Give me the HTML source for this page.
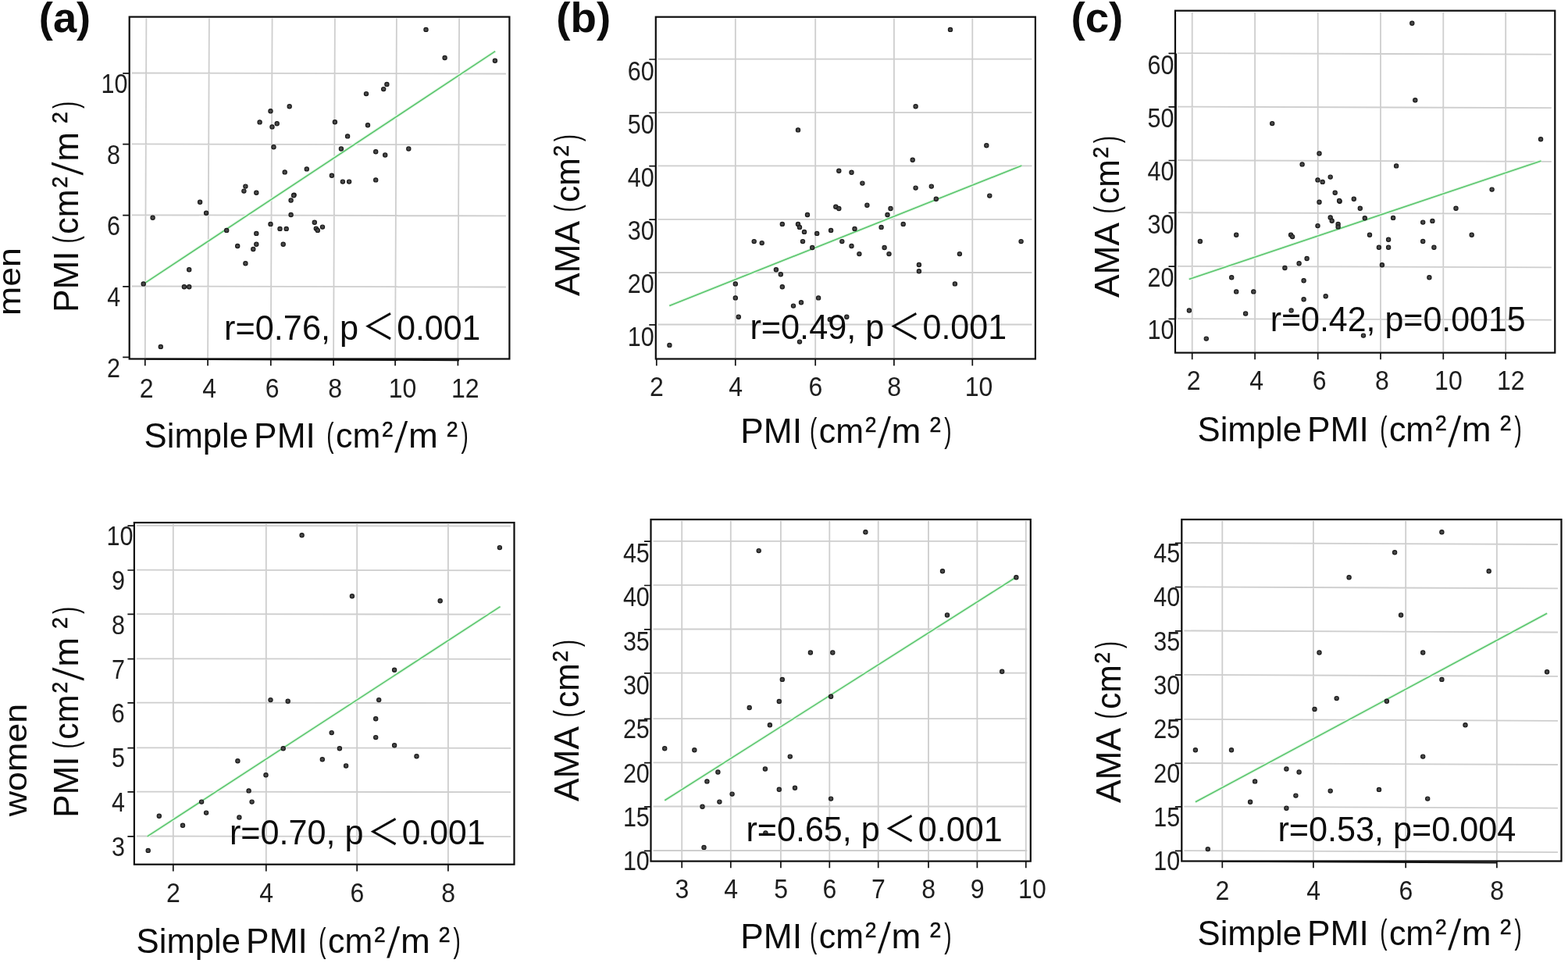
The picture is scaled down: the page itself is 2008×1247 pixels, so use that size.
<!DOCTYPE html>
<html lang="en">
<head>
<meta charset="utf-8">
<title>Correlation between PMI, simple PMI and AMA in men and women</title>
<style>
html,body{margin:0;padding:0;background:#fff;}
body{width:2008px;height:1247px;overflow:hidden;}
svg{display:block;font-family:"Liberation Sans","Noto Sans CJK JP",sans-serif;filter:blur(0.4px);}
.tk text{fill:#1e1e1e;}
.lb text{fill:#0c0c0c;}
.lb text.fw{font-family:"Noto Sans CJK JP","Liberation Sans",sans-serif;}
</style>
</head>
<body>
<svg width="2008" height="1247" viewBox="0 0 2008 1247">
<rect x="0" y="0" width="2008" height="1247" fill="#ffffff"/>
<g id="panel-a">
<path d="M187.4 23.6L185.8 458.5M267.9 23.6L266.1 458.5M348.6 23.6L346.8 458.5M428.9 23.6L427.1 458.5M507.9 23.6L506.1 458.5M588.1 23.6L586.4 458.5M168.7 93.5L647.9 94.5M168.7 184.4L647.9 185.4M168.7 275.3L647.9 276.3M168.7 366.5L647.9 367.5" stroke="#cecece" stroke-width="1.8" fill="none"/>
<line x1="183.7" y1="363.6" x2="634.2" y2="65.7" stroke="#e6f8e8" stroke-width="4"/>
<line x1="183.7" y1="363.6" x2="634.2" y2="65.7" stroke="#58c56c" stroke-width="1.6"/>
<g fill="#484848" stroke="#1a1a1a" stroke-width="1.2"><circle cx="545.5" cy="37.9" r="2.6"/><circle cx="569.6" cy="74" r="2.6"/><circle cx="633.9" cy="77.7" r="2.6"/><circle cx="495.4" cy="107.9" r="2.6"/><circle cx="491.2" cy="114.1" r="2.6"/><circle cx="469" cy="120.1" r="2.6"/><circle cx="370.7" cy="136.3" r="2.6"/><circle cx="346.5" cy="142.2" r="2.6"/><circle cx="332.6" cy="156.4" r="2.6"/><circle cx="354.7" cy="158.2" r="2.6"/><circle cx="348.5" cy="162.4" r="2.6"/><circle cx="428.9" cy="156.2" r="2.6"/><circle cx="471" cy="160.2" r="2.6"/><circle cx="445.1" cy="174.4" r="2.6"/><circle cx="350.5" cy="188.3" r="2.6"/><circle cx="436.9" cy="190.5" r="2.6"/><circle cx="523.3" cy="190.5" r="2.6"/><circle cx="481.2" cy="194.3" r="2.6"/><circle cx="493.2" cy="198.5" r="2.6"/><circle cx="392.8" cy="216.4" r="2.6"/><circle cx="364.7" cy="220.4" r="2.6"/><circle cx="424.9" cy="224.7" r="2.6"/><circle cx="438.9" cy="232.6" r="2.6"/><circle cx="447.1" cy="232.6" r="2.6"/><circle cx="481.2" cy="230.4" r="2.6"/><circle cx="314.4" cy="238.6" r="2.6"/><circle cx="312.4" cy="244.6" r="2.6"/><circle cx="328.3" cy="246.8" r="2.6"/><circle cx="376.6" cy="249.6" r="2.6"/><circle cx="376.1" cy="250.3" r="2.6"/><circle cx="372.6" cy="256.5" r="2.6"/><circle cx="256.1" cy="258.8" r="2.6"/><circle cx="264.1" cy="272.7" r="2.6"/><circle cx="195.6" cy="278.7" r="2.6"/><circle cx="372.6" cy="275" r="2.6"/><circle cx="402.8" cy="284.7" r="2.6"/><circle cx="413" cy="290.6" r="2.6"/><circle cx="404.8" cy="292.6" r="2.6"/><circle cx="406.8" cy="294.9" r="2.6"/><circle cx="346.5" cy="286.9" r="2.6"/><circle cx="358.5" cy="292.9" r="2.6"/><circle cx="366.7" cy="292.9" r="2.6"/><circle cx="290.2" cy="294.9" r="2.6"/><circle cx="328.3" cy="298.9" r="2.6"/><circle cx="304.2" cy="315" r="2.6"/><circle cx="328.3" cy="312.8" r="2.6"/><circle cx="324.3" cy="319" r="2.6"/><circle cx="362.7" cy="312.8" r="2.6"/><circle cx="314.4" cy="337.3" r="2.6"/><circle cx="242.2" cy="345.3" r="2.6"/><circle cx="183.7" cy="363.4" r="2.6"/><circle cx="235.9" cy="367.2" r="2.6"/><circle cx="242.2" cy="367.2" r="2.6"/><circle cx="205.8" cy="443.9" r="2.6"/></g>
<rect x="165.7" y="21.6" width="486.7" height="437.9" fill="none" stroke="#0d0d0d" stroke-width="2.2"/>
<line x1="187" y1="459.8" x2="588" y2="461.2" stroke="#0d0d0d" stroke-width="1.9"/>
<path d="M185.8 459.5v8.7M266.1 459.5v8.7M346.8 459.5v8.7M427.1 459.5v8.7M506.1 459.5v8.7M586.4 459.5v8.7M165.7 93.8h-8.5M165.7 184.7h-8.5M165.7 275.6h-8.5M165.7 366.8h-8.5M165.7 457.4h-8.5" stroke="#111" stroke-width="1.7" fill="none"/>
<g class="tk">
<text x="178.8" y="509.4" font-size="35.6" textLength="17.82" lengthAdjust="spacingAndGlyphs">2</text>
<text x="259.2" y="509.4" font-size="35.6" textLength="17.82" lengthAdjust="spacingAndGlyphs">4</text>
<text x="339.7" y="509.4" font-size="35.6" textLength="17.82" lengthAdjust="spacingAndGlyphs">6</text>
<text x="420.2" y="509.4" font-size="35.6" textLength="17.82" lengthAdjust="spacingAndGlyphs">8</text>
<text x="497.7" y="509.4" font-size="35.6" textLength="35.64" lengthAdjust="spacingAndGlyphs">10</text>
<text x="577.9" y="509.4" font-size="35.6" textLength="35.64" lengthAdjust="spacingAndGlyphs">12</text>
<text x="129.6" y="119" font-size="35.3" textLength="33.96" lengthAdjust="spacingAndGlyphs">10</text>
<text x="137.1" y="209.9" font-size="35.3" textLength="16.98" lengthAdjust="spacingAndGlyphs">8</text>
<text x="137" y="300.9" font-size="35.3" textLength="16.98" lengthAdjust="spacingAndGlyphs">6</text>
<text x="137.2" y="391.8" font-size="35.3" textLength="16.98" lengthAdjust="spacingAndGlyphs">4</text>
<text x="137.1" y="482.7" font-size="35.3" textLength="16.98" lengthAdjust="spacingAndGlyphs">2</text>
</g>
<g class="lb">
<text x="287.1" y="434.8" font-size="43.5" textLength="171.95" lengthAdjust="spacingAndGlyphs">r=0.76, p</text>
<text class="fw" x="463.9" y="435.3" font-size="45.3" textLength="41.54" lengthAdjust="spacingAndGlyphs">＜</text>
<text x="508.2" y="434.8" font-size="43.5" textLength="107.04" lengthAdjust="spacingAndGlyphs">0.001</text>
<text x="184.6" y="572.8" font-size="43.5" textLength="133.50" lengthAdjust="spacingAndGlyphs">Simple</text>
<text x="325.1" y="572.8" font-size="43.5" textLength="78.77" lengthAdjust="spacingAndGlyphs">PMI</text>
<text x="418.3" y="571.6" font-size="43.5" textLength="9.30" lengthAdjust="spacingAndGlyphs">(</text>
<text x="430" y="572.8" font-size="43.5" textLength="57.24" lengthAdjust="spacingAndGlyphs">cm</text>
<text x="489.1" y="558.9" font-size="28.2" stroke="#0c0c0c" stroke-width="0.55" textLength="14.67" lengthAdjust="spacingAndGlyphs">2</text>
<text transform="matrix(1 0 -0.154 1.267 505.27 579.15)" x="0" y="0" font-size="43.5">/</text>
<text x="522.9" y="572.8" font-size="43.5" textLength="37.84" lengthAdjust="spacingAndGlyphs">m</text>
<text x="571.8" y="558.9" font-size="28.2" stroke="#0c0c0c" stroke-width="0.55" textLength="14.79" lengthAdjust="spacingAndGlyphs">2</text>
<text x="590.6" y="571.6" font-size="43.5" textLength="9.30" lengthAdjust="spacingAndGlyphs">)</text>
<g transform="translate(100.1 396.4) rotate(-90)">
<text x="-3.7" y="0" font-size="43.5" textLength="78.77" lengthAdjust="spacingAndGlyphs">PMI</text>
<text x="85" y="-1.2" font-size="43.5" textLength="9.30" lengthAdjust="spacingAndGlyphs">(</text>
<text x="96.7" y="0" font-size="43.5" textLength="57.24" lengthAdjust="spacingAndGlyphs">cm</text>
<text x="155.8" y="-13.9" font-size="28.2" stroke="#0c0c0c" stroke-width="0.55" textLength="14.67" lengthAdjust="spacingAndGlyphs">2</text>
<text transform="matrix(1 0 -0.154 1.267 171.97 6.35)" x="0" y="0" font-size="43.5">/</text>
<text x="189.6" y="0" font-size="43.5" textLength="37.84" lengthAdjust="spacingAndGlyphs">m</text>
<text x="238.5" y="-13.9" font-size="28.2" stroke="#0c0c0c" stroke-width="0.55" textLength="14.79" lengthAdjust="spacingAndGlyphs">2</text>
<text x="257.3" y="-1.2" font-size="43.5" textLength="9.30" lengthAdjust="spacingAndGlyphs">)</text>
</g>
</g>
</g>
<g id="panel-b">
<path d="M941.8 23.7L941.8 458.5M1044.2 23.7L1044.2 458.5M1144.9 23.7L1144.9 458.5M1245.3 23.7L1245.3 458.5M842.8 75.7L1321.4 75.7M842.8 144.2L1321.4 144.2M842.8 212.4L1321.4 212.4M842.8 280.8L1321.4 280.8M842.8 349L1321.4 349M842.8 415.5L1321.4 415.5" stroke="#cecece" stroke-width="1.8" fill="none"/>
<line x1="857.2" y1="391.4" x2="1308.4" y2="212" stroke="#e6f8e8" stroke-width="4"/>
<line x1="857.2" y1="391.4" x2="1308.4" y2="212" stroke="#58c56c" stroke-width="1.6"/>
<g fill="#484848" stroke="#1a1a1a" stroke-width="1.2"><circle cx="1217" cy="37.9" r="2.6"/><circle cx="1172.6" cy="136.3" r="2.6"/><circle cx="1022" cy="166.4" r="2.6"/><circle cx="1263.3" cy="186.3" r="2.6"/><circle cx="1168.7" cy="204.7" r="2.6"/><circle cx="1074.3" cy="218.7" r="2.6"/><circle cx="1090.5" cy="220.7" r="2.6"/><circle cx="1104.4" cy="234.6" r="2.6"/><circle cx="1172.6" cy="240.6" r="2.6"/><circle cx="1192.8" cy="238.6" r="2.6"/><circle cx="1198.8" cy="254.8" r="2.6"/><circle cx="1267.3" cy="250.6" r="2.6"/><circle cx="1110.4" cy="262.8" r="2.6"/><circle cx="1070.3" cy="264.8" r="2.6"/><circle cx="1074.3" cy="267" r="2.6"/><circle cx="1140.5" cy="267" r="2.6"/><circle cx="1034" cy="275" r="2.6"/><circle cx="1136.5" cy="275" r="2.6"/><circle cx="1001.8" cy="286.9" r="2.6"/><circle cx="1022" cy="286.9" r="2.6"/><circle cx="1024" cy="290.9" r="2.6"/><circle cx="1156.7" cy="286.9" r="2.6"/><circle cx="1128.6" cy="290.9" r="2.6"/><circle cx="1094.5" cy="292.9" r="2.6"/><circle cx="1064.1" cy="294.9" r="2.6"/><circle cx="1030" cy="296.9" r="2.6"/><circle cx="1046.2" cy="298.9" r="2.6"/><circle cx="965.7" cy="309.1" r="2.6"/><circle cx="975.7" cy="311.1" r="2.6"/><circle cx="1028" cy="309.1" r="2.6"/><circle cx="1078.3" cy="309.1" r="2.6"/><circle cx="1090.5" cy="315" r="2.6"/><circle cx="1040.2" cy="317" r="2.6"/><circle cx="1132.6" cy="317" r="2.6"/><circle cx="1307.6" cy="309.1" r="2.6"/><circle cx="1100.4" cy="325.1" r="2.6"/><circle cx="1138.5" cy="325.1" r="2.6"/><circle cx="1228.9" cy="325.1" r="2.6"/><circle cx="1176.9" cy="339" r="2.6"/><circle cx="1176.9" cy="347.3" r="2.6"/><circle cx="993.9" cy="345.3" r="2.6"/><circle cx="999.8" cy="351.2" r="2.6"/><circle cx="941.8" cy="363.4" r="2.6"/><circle cx="1222.9" cy="363.4" r="2.6"/><circle cx="1001.8" cy="367.2" r="2.6"/><circle cx="941.8" cy="381.4" r="2.6"/><circle cx="1048.1" cy="381.4" r="2.6"/><circle cx="1026" cy="387.3" r="2.6"/><circle cx="1016" cy="391.6" r="2.6"/><circle cx="945.8" cy="405.8" r="2.6"/><circle cx="1084.3" cy="405.8" r="2.6"/><circle cx="1062.8" cy="409" r="2.6"/><circle cx="1024" cy="437.6" r="2.6"/><circle cx="857.4" cy="441.9" r="2.6"/></g>
<rect x="839.8" y="21.7" width="486.1" height="437.8" fill="none" stroke="#0d0d0d" stroke-width="2.2"/>
<path d="M840.8 459.5v8.7M941.8 459.5v8.7M1044.2 459.5v8.7M1144.9 459.5v8.7M1245.3 459.5v8.7M839.8 76h-8.5M839.8 144.5h-8.5M839.8 212.7h-8.5M839.8 281.1h-8.5M839.8 349.3h-8.5M839.8 415.8h-8.5" stroke="#111" stroke-width="1.7" fill="none"/>
<g class="tk">
<text x="832.1" y="507.2" font-size="35.6" textLength="17.82" lengthAdjust="spacingAndGlyphs">2</text>
<text x="933.2" y="507.2" font-size="35.6" textLength="17.82" lengthAdjust="spacingAndGlyphs">4</text>
<text x="1035.4" y="507.2" font-size="35.6" textLength="17.82" lengthAdjust="spacingAndGlyphs">6</text>
<text x="1136.2" y="507.2" font-size="35.6" textLength="17.82" lengthAdjust="spacingAndGlyphs">8</text>
<text x="1235.8" y="507.2" font-size="35.6" textLength="35.64" lengthAdjust="spacingAndGlyphs">10</text>
<text x="803.8" y="102.8" font-size="35.3" textLength="33.96" lengthAdjust="spacingAndGlyphs">60</text>
<text x="803.8" y="170.8" font-size="35.3" textLength="33.96" lengthAdjust="spacingAndGlyphs">50</text>
<text x="803.8" y="238.8" font-size="35.3" textLength="33.96" lengthAdjust="spacingAndGlyphs">40</text>
<text x="803.8" y="306.7" font-size="35.3" textLength="33.96" lengthAdjust="spacingAndGlyphs">30</text>
<text x="803.8" y="374.7" font-size="35.3" textLength="33.96" lengthAdjust="spacingAndGlyphs">20</text>
<text x="803.8" y="442.7" font-size="35.3" textLength="33.96" lengthAdjust="spacingAndGlyphs">10</text>
</g>
<g class="lb">
<text x="960.4" y="434.3" font-size="43.5" textLength="171.95" lengthAdjust="spacingAndGlyphs">r=0.49, p</text>
<text class="fw" x="1137.2" y="434.8" font-size="45.3" textLength="41.54" lengthAdjust="spacingAndGlyphs">＜</text>
<text x="1181.5" y="434.3" font-size="43.5" textLength="107.56" lengthAdjust="spacingAndGlyphs">0.001</text>
<text x="948.3" y="567.1" font-size="43.5" textLength="78.77" lengthAdjust="spacingAndGlyphs">PMI</text>
<text x="1037" y="565.9" font-size="43.5" textLength="9.30" lengthAdjust="spacingAndGlyphs">(</text>
<text x="1048.7" y="567.1" font-size="43.5" textLength="57.24" lengthAdjust="spacingAndGlyphs">cm</text>
<text x="1107.8" y="553.2" font-size="28.2" stroke="#0c0c0c" stroke-width="0.55" textLength="14.67" lengthAdjust="spacingAndGlyphs">2</text>
<text transform="matrix(1 0 -0.154 1.267 1123.97 573.45)" x="0" y="0" font-size="43.5">/</text>
<text x="1141.6" y="567.1" font-size="43.5" textLength="37.84" lengthAdjust="spacingAndGlyphs">m</text>
<text x="1190.5" y="553.2" font-size="28.2" stroke="#0c0c0c" stroke-width="0.55" textLength="14.79" lengthAdjust="spacingAndGlyphs">2</text>
<text x="1209.3" y="565.9" font-size="43.5" textLength="9.30" lengthAdjust="spacingAndGlyphs">)</text>
<g transform="translate(741.9 379) rotate(-90)">
<text x="-0.1" y="0" font-size="43.5" textLength="96.10" lengthAdjust="spacingAndGlyphs">AMA</text>
<text x="107.6" y="-1.2" font-size="43.5" textLength="9.30" lengthAdjust="spacingAndGlyphs">(</text>
<text x="120" y="0" font-size="43.5" textLength="56.69" lengthAdjust="spacingAndGlyphs">cm</text>
<text x="178.6" y="-13.9" font-size="28.2" stroke="#0c0c0c" stroke-width="0.55" textLength="14.67" lengthAdjust="spacingAndGlyphs">2</text>
<text x="197.7" y="-1.2" font-size="43.5" textLength="9.30" lengthAdjust="spacingAndGlyphs">)</text>
</g>
</g>
</g>
<g id="panel-c">
<path d="M1526.7 15.7L1526.7 450.6M1607.1 15.7L1607.1 450.6M1687.7 15.7L1687.7 450.6M1768 15.7L1768 450.6M1848.3 15.7L1848.3 450.6M1928.2 15.7L1928.2 450.6M1508 68.1L1986.8 69.7M1508 136.6L1986.8 138.2M1508 205.2L1986.8 206.8M1508 272.2L1986.8 273.8M1508 340.8L1986.8 342.4M1508 408L1986.8 409.6" stroke="#cecece" stroke-width="1.8" fill="none"/>
<line x1="1522.7" y1="357.4" x2="1973.6" y2="206" stroke="#e6f8e8" stroke-width="4"/>
<line x1="1522.7" y1="357.4" x2="1973.6" y2="206" stroke="#58c56c" stroke-width="1.6"/>
<g fill="#484848" stroke="#1a1a1a" stroke-width="1.2"><circle cx="1808.3" cy="29.7" r="2.6"/><circle cx="1812.3" cy="128.3" r="2.6"/><circle cx="1629.2" cy="158.1" r="2.6"/><circle cx="1973.1" cy="178.3" r="2.6"/><circle cx="1689.5" cy="196.5" r="2.6"/><circle cx="1667.6" cy="210.4" r="2.6"/><circle cx="1788.1" cy="212.4" r="2.6"/><circle cx="1703.7" cy="226.6" r="2.6"/><circle cx="1687.5" cy="230.4" r="2.6"/><circle cx="1693.7" cy="232.9" r="2.6"/><circle cx="1709.7" cy="246.8" r="2.6"/><circle cx="1910.6" cy="242.6" r="2.6"/><circle cx="1733.8" cy="254.8" r="2.6"/><circle cx="1689.5" cy="258.7" r="2.6"/><circle cx="1715.6" cy="257.8" r="2.6"/><circle cx="1715.1" cy="257" r="2.6"/><circle cx="1741.8" cy="266.7" r="2.6"/><circle cx="1864.5" cy="266.7" r="2.6"/><circle cx="1703.7" cy="278.4" r="2.6"/><circle cx="1705.7" cy="282.7" r="2.6"/><circle cx="1747.8" cy="279.2" r="2.6"/><circle cx="1784.1" cy="278.9" r="2.6"/><circle cx="1713.6" cy="286.9" r="2.6"/><circle cx="1713.6" cy="290.4" r="2.6"/><circle cx="1687.5" cy="289.1" r="2.6"/><circle cx="1822.2" cy="284.6" r="2.6"/><circle cx="1834.4" cy="282.9" r="2.6"/><circle cx="1583.2" cy="300.8" r="2.6"/><circle cx="1653.1" cy="300.8" r="2.6"/><circle cx="1655.1" cy="303.1" r="2.6"/><circle cx="1754" cy="300.8" r="2.6"/><circle cx="1884.7" cy="300.8" r="2.6"/><circle cx="1536.9" cy="309" r="2.6"/><circle cx="1778.1" cy="306.8" r="2.6"/><circle cx="1822.2" cy="309" r="2.6"/><circle cx="1765.9" cy="316.8" r="2.6"/><circle cx="1778.1" cy="316.8" r="2.6"/><circle cx="1836.4" cy="316.8" r="2.6"/><circle cx="1673.6" cy="331" r="2.6"/><circle cx="1663.6" cy="337.3" r="2.6"/><circle cx="1645.4" cy="343" r="2.6"/><circle cx="1769.9" cy="339.2" r="2.6"/><circle cx="1577.2" cy="355.2" r="2.6"/><circle cx="1830.4" cy="355.2" r="2.6"/><circle cx="1669.6" cy="359.2" r="2.6"/><circle cx="1583.2" cy="373.4" r="2.6"/><circle cx="1605.3" cy="373.4" r="2.6"/><circle cx="1697.7" cy="379.3" r="2.6"/><circle cx="1669.6" cy="383.3" r="2.6"/><circle cx="1522.9" cy="397.5" r="2.6"/><circle cx="1653.6" cy="397.5" r="2.6"/><circle cx="1595.1" cy="401.5" r="2.6"/><circle cx="1746" cy="429.6" r="2.6"/><circle cx="1544.8" cy="433.6" r="2.6"/></g>
<rect x="1505" y="13.7" width="486.3" height="437.9" fill="none" stroke="#0d0d0d" stroke-width="2.2"/>
<line x1="1506.1" y1="68.5" x2="1505.3" y2="409" stroke="#0d0d0d" stroke-width="1.9"/>
<path d="M1526.7 451.6v8.7M1607.1 451.6v8.7M1687.7 451.6v8.7M1768 451.6v8.7M1848.3 451.6v8.7M1928.2 451.6v8.7M1505 68.4h-8.5M1505 136.9h-8.5M1505 205.5h-8.5M1505 272.5h-8.5M1505 341.1h-8.5M1505 408.3h-8.5" stroke="#111" stroke-width="1.7" fill="none"/>
<g class="tk">
<text x="1519.8" y="499.3" font-size="35.6" textLength="17.82" lengthAdjust="spacingAndGlyphs">2</text>
<text x="1600.3" y="499.3" font-size="35.6" textLength="17.82" lengthAdjust="spacingAndGlyphs">4</text>
<text x="1680.7" y="499.3" font-size="35.6" textLength="17.82" lengthAdjust="spacingAndGlyphs">6</text>
<text x="1761.1" y="499.3" font-size="35.6" textLength="17.82" lengthAdjust="spacingAndGlyphs">8</text>
<text x="1837.1" y="499.3" font-size="35.6" textLength="35.64" lengthAdjust="spacingAndGlyphs">10</text>
<text x="1917" y="499.3" font-size="35.6" textLength="35.64" lengthAdjust="spacingAndGlyphs">12</text>
<text x="1469.6" y="95" font-size="35.3" textLength="33.96" lengthAdjust="spacingAndGlyphs">60</text>
<text x="1469.6" y="162.9" font-size="35.3" textLength="33.96" lengthAdjust="spacingAndGlyphs">50</text>
<text x="1469.6" y="230.8" font-size="35.3" textLength="33.96" lengthAdjust="spacingAndGlyphs">40</text>
<text x="1469.6" y="298.6" font-size="35.3" textLength="33.96" lengthAdjust="spacingAndGlyphs">30</text>
<text x="1469.6" y="366.5" font-size="35.3" textLength="33.96" lengthAdjust="spacingAndGlyphs">20</text>
<text x="1469.6" y="434.4" font-size="35.3" textLength="33.96" lengthAdjust="spacingAndGlyphs">10</text>
</g>
<g class="lb">
<text x="1626.7" y="424.3" font-size="43.5" textLength="327.03" lengthAdjust="spacingAndGlyphs">r=0.42, p=0.0015</text>
<text x="1533.5" y="565.3" font-size="43.5" textLength="133.50" lengthAdjust="spacingAndGlyphs">Simple</text>
<text x="1674" y="565.3" font-size="43.5" textLength="78.77" lengthAdjust="spacingAndGlyphs">PMI</text>
<text x="1767.2" y="564.1" font-size="43.5" textLength="9.30" lengthAdjust="spacingAndGlyphs">(</text>
<text x="1778.9" y="565.3" font-size="43.5" textLength="57.24" lengthAdjust="spacingAndGlyphs">cm</text>
<text x="1838" y="551.4" font-size="28.2" stroke="#0c0c0c" stroke-width="0.55" textLength="14.67" lengthAdjust="spacingAndGlyphs">2</text>
<text transform="matrix(1 0 -0.154 1.267 1854.17 571.65)" x="0" y="0" font-size="43.5">/</text>
<text x="1871.8" y="565.3" font-size="43.5" textLength="37.84" lengthAdjust="spacingAndGlyphs">m</text>
<text x="1920.7" y="551.4" font-size="28.2" stroke="#0c0c0c" stroke-width="0.55" textLength="14.79" lengthAdjust="spacingAndGlyphs">2</text>
<text x="1939.5" y="564.1" font-size="43.5" textLength="9.30" lengthAdjust="spacingAndGlyphs">)</text>
<g transform="translate(1433.3 381) rotate(-90)">
<text x="-0.1" y="0" font-size="43.5" textLength="96.10" lengthAdjust="spacingAndGlyphs">AMA</text>
<text x="107.6" y="-1.2" font-size="43.5" textLength="9.30" lengthAdjust="spacingAndGlyphs">(</text>
<text x="120" y="0" font-size="43.5" textLength="56.69" lengthAdjust="spacingAndGlyphs">cm</text>
<text x="178.6" y="-13.9" font-size="28.2" stroke="#0c0c0c" stroke-width="0.55" textLength="14.67" lengthAdjust="spacingAndGlyphs">2</text>
<text x="197.7" y="-1.2" font-size="43.5" textLength="9.30" lengthAdjust="spacingAndGlyphs">)</text>
</g>
</g>
</g>
<g id="panel-d">
<path d="M221.8 671.1L221.8 1105.7M340.8 671.1L340.8 1105.7M457.2 671.1L457.2 1105.7M573.9 671.1L573.9 1105.7M174.9 672.9L654 673.5M174.9 729.7L654 730.3M174.9 786.1L654 786.7M174.9 843.3L654 843.9M174.9 899.6L654 900.2M174.9 957.3L654 957.9M174.9 1013.6L654 1014.2M174.9 1070.5L654 1071.1" stroke="#cecece" stroke-width="1.8" fill="none"/>
<line x1="188.6" y1="1070.9" x2="640.6" y2="776.6" stroke="#e6f8e8" stroke-width="4"/>
<line x1="188.6" y1="1070.9" x2="640.6" y2="776.6" stroke="#58c56c" stroke-width="1.6"/>
<g fill="#484848" stroke="#1a1a1a" stroke-width="1.2"><circle cx="386.6" cy="685.2" r="2.6"/><circle cx="639.9" cy="701.1" r="2.6"/><circle cx="450.9" cy="763.3" r="2.6"/><circle cx="563.7" cy="769.3" r="2.6"/><circle cx="505.1" cy="857.7" r="2.6"/><circle cx="346.5" cy="896.1" r="2.6"/><circle cx="368.7" cy="897.8" r="2.6"/><circle cx="485.2" cy="896.1" r="2.6"/><circle cx="481.2" cy="920.2" r="2.6"/><circle cx="424.7" cy="938.1" r="2.6"/><circle cx="481.2" cy="944.1" r="2.6"/><circle cx="505.1" cy="954.3" r="2.6"/><circle cx="362.7" cy="958.3" r="2.6"/><circle cx="434.9" cy="958.3" r="2.6"/><circle cx="533.5" cy="968.3" r="2.6"/><circle cx="412.8" cy="972.3" r="2.6"/><circle cx="304.4" cy="974.3" r="2.6"/><circle cx="443.1" cy="980.5" r="2.6"/><circle cx="340.5" cy="992.3" r="2.6"/><circle cx="318.6" cy="1012.4" r="2.6"/><circle cx="258.1" cy="1026.6" r="2.6"/><circle cx="322.6" cy="1026.6" r="2.6"/><circle cx="264.1" cy="1040.6" r="2.6"/><circle cx="203.8" cy="1044.8" r="2.6"/><circle cx="306.4" cy="1046.5" r="2.6"/><circle cx="234" cy="1056.7" r="2.6"/><circle cx="189.7" cy="1088.9" r="2.6"/></g>
<rect x="171.9" y="669.1" width="486.6" height="437.6" fill="none" stroke="#0d0d0d" stroke-width="2.2"/>
<path d="M221.8 1106.7v8.7M340.8 1106.7v8.7M457.2 1106.7v8.7M573.9 1106.7v8.7M171.9 673.2h-8.5M171.9 730h-8.5M171.9 786.4h-8.5M171.9 843.6h-8.5M171.9 899.9h-8.5M171.9 957.6h-8.5M171.9 1013.9h-8.5M171.9 1070.8h-8.5" stroke="#111" stroke-width="1.7" fill="none"/>
<g class="tk">
<text x="213.1" y="1154.5" font-size="35.6" textLength="17.82" lengthAdjust="spacingAndGlyphs">2</text>
<text x="332.2" y="1154.5" font-size="35.6" textLength="17.82" lengthAdjust="spacingAndGlyphs">4</text>
<text x="448.4" y="1154.5" font-size="35.6" textLength="17.82" lengthAdjust="spacingAndGlyphs">6</text>
<text x="565.2" y="1154.5" font-size="35.6" textLength="17.82" lengthAdjust="spacingAndGlyphs">8</text>
<text x="136.6" y="698" font-size="35.3" textLength="33.96" lengthAdjust="spacingAndGlyphs">10</text>
<text x="142.9" y="754.8" font-size="35.3" textLength="16.98" lengthAdjust="spacingAndGlyphs">9</text>
<text x="142.9" y="811.7" font-size="35.3" textLength="16.98" lengthAdjust="spacingAndGlyphs">8</text>
<text x="142.9" y="868.5" font-size="35.3" textLength="16.98" lengthAdjust="spacingAndGlyphs">7</text>
<text x="142.8" y="925.4" font-size="35.3" textLength="16.98" lengthAdjust="spacingAndGlyphs">6</text>
<text x="142.9" y="982.2" font-size="35.3" textLength="16.98" lengthAdjust="spacingAndGlyphs">5</text>
<text x="143" y="1039.1" font-size="35.3" textLength="16.98" lengthAdjust="spacingAndGlyphs">4</text>
<text x="143" y="1095.9" font-size="35.3" textLength="16.98" lengthAdjust="spacingAndGlyphs">3</text>
</g>
<g class="lb">
<text x="294" y="1081.4" font-size="43.5" textLength="171.54" lengthAdjust="spacingAndGlyphs">r=0.70, p</text>
<text class="fw" x="470.4" y="1081.9" font-size="45.3" textLength="41.54" lengthAdjust="spacingAndGlyphs">＜</text>
<text x="514.7" y="1081.4" font-size="43.5" textLength="106.73" lengthAdjust="spacingAndGlyphs">0.001</text>
<text x="174.6" y="1219.8" font-size="43.5" textLength="133.50" lengthAdjust="spacingAndGlyphs">Simple</text>
<text x="315.1" y="1219.8" font-size="43.5" textLength="78.77" lengthAdjust="spacingAndGlyphs">PMI</text>
<text x="408.3" y="1218.6" font-size="43.5" textLength="9.30" lengthAdjust="spacingAndGlyphs">(</text>
<text x="420" y="1219.8" font-size="43.5" textLength="57.24" lengthAdjust="spacingAndGlyphs">cm</text>
<text x="479.1" y="1205.9" font-size="28.2" stroke="#0c0c0c" stroke-width="0.55" textLength="14.67" lengthAdjust="spacingAndGlyphs">2</text>
<text transform="matrix(1 0 -0.154 1.267 495.27 1226.15)" x="0" y="0" font-size="43.5">/</text>
<text x="512.9" y="1219.8" font-size="43.5" textLength="37.84" lengthAdjust="spacingAndGlyphs">m</text>
<text x="561.8" y="1205.9" font-size="28.2" stroke="#0c0c0c" stroke-width="0.55" textLength="14.79" lengthAdjust="spacingAndGlyphs">2</text>
<text x="580.6" y="1218.6" font-size="43.5" textLength="9.30" lengthAdjust="spacingAndGlyphs">)</text>
<g transform="translate(100.2 1043.4) rotate(-90)">
<text x="-3.7" y="0" font-size="43.5" textLength="78.77" lengthAdjust="spacingAndGlyphs">PMI</text>
<text x="85" y="-1.2" font-size="43.5" textLength="9.30" lengthAdjust="spacingAndGlyphs">(</text>
<text x="96.7" y="0" font-size="43.5" textLength="57.24" lengthAdjust="spacingAndGlyphs">cm</text>
<text x="155.8" y="-13.9" font-size="28.2" stroke="#0c0c0c" stroke-width="0.55" textLength="14.67" lengthAdjust="spacingAndGlyphs">2</text>
<text transform="matrix(1 0 -0.154 1.267 171.97 6.35)" x="0" y="0" font-size="43.5">/</text>
<text x="189.6" y="0" font-size="43.5" textLength="37.84" lengthAdjust="spacingAndGlyphs">m</text>
<text x="238.5" y="-13.9" font-size="28.2" stroke="#0c0c0c" stroke-width="0.55" textLength="14.79" lengthAdjust="spacingAndGlyphs">2</text>
<text x="257.3" y="-1.2" font-size="43.5" textLength="9.30" lengthAdjust="spacingAndGlyphs">)</text>
</g>
</g>
</g>
<g id="panel-e">
<path d="M873.2 667.1L873.2 1101.6M935.8 667.1L935.8 1101.6M999.9 667.1L999.9 1101.6M1062.3 667.1L1062.3 1101.6M1124.7 667.1L1124.7 1101.6M1189 667.1L1189 1101.6M1251.4 667.1L1251.4 1101.6M1313.8 667.1L1313.8 1101.6M836.5 692.8L1315.3 692.8M836.5 749.2L1315.3 749.2M836.5 805.5L1315.3 805.5M836.5 861.6L1315.3 861.6M836.5 920.1L1315.3 920.1M836.5 976.3L1315.3 976.3M836.5 1032.5L1315.3 1032.5M836.5 1089L1315.3 1089" stroke="#cecece" stroke-width="1.8" fill="none"/>
<line x1="851.2" y1="1024.8" x2="1301.5" y2="738.8" stroke="#e6f8e8" stroke-width="4"/>
<line x1="851.2" y1="1024.8" x2="1301.5" y2="738.8" stroke="#58c56c" stroke-width="1.6"/>
<g fill="#484848" stroke="#1a1a1a" stroke-width="1.2"><circle cx="1108.4" cy="681.2" r="2.6"/><circle cx="971.7" cy="705.1" r="2.6"/><circle cx="1207" cy="731.2" r="2.6"/><circle cx="1301.4" cy="739.2" r="2.6"/><circle cx="1213" cy="787.5" r="2.6"/><circle cx="1037.9" cy="835.5" r="2.6"/><circle cx="1066.3" cy="835.5" r="2.6"/><circle cx="1283.2" cy="859.7" r="2.6"/><circle cx="1001.8" cy="869.9" r="2.6"/><circle cx="1064.1" cy="891.8" r="2.6"/><circle cx="997.8" cy="898" r="2.6"/><circle cx="959.7" cy="906" r="2.6"/><circle cx="985.9" cy="928.2" r="2.6"/><circle cx="851.2" cy="958.3" r="2.6"/><circle cx="889.3" cy="960.3" r="2.6"/><circle cx="1011.8" cy="968.6" r="2.6"/><circle cx="979.9" cy="984.5" r="2.6"/><circle cx="919.4" cy="988.5" r="2.6"/><circle cx="905.4" cy="1000.4" r="2.6"/><circle cx="1018" cy="1008.7" r="2.6"/><circle cx="997.8" cy="1010.7" r="2.6"/><circle cx="937.6" cy="1016.6" r="2.6"/><circle cx="1064.1" cy="1022.6" r="2.6"/><circle cx="921.4" cy="1026.6" r="2.6"/><circle cx="899.5" cy="1032.8" r="2.6"/><circle cx="980.4" cy="1066.4" r="2.6"/><circle cx="901.5" cy="1084.9" r="2.6"/></g>
<rect x="833.5" y="665.1" width="486.3" height="437.5" fill="none" stroke="#0d0d0d" stroke-width="2.2"/>
<path d="M873.2 1102.6v8.7M935.8 1102.6v8.7M999.9 1102.6v8.7M1062.3 1102.6v8.7M1124.7 1102.6v8.7M1189 1102.6v8.7M1251.4 1102.6v8.7M1313.8 1102.6v8.7M833.5 693.1h-8.5M833.5 749.5h-8.5M833.5 805.8h-8.5M833.5 861.9h-8.5M833.5 920.4h-8.5M833.5 976.6h-8.5M833.5 1032.8h-8.5M833.5 1089.3h-8.5" stroke="#111" stroke-width="1.7" fill="none"/>
<g class="tk">
<text x="864.6" y="1150" font-size="35.6" textLength="17.82" lengthAdjust="spacingAndGlyphs">3</text>
<text x="927.2" y="1150" font-size="35.6" textLength="17.82" lengthAdjust="spacingAndGlyphs">4</text>
<text x="991.2" y="1150" font-size="35.6" textLength="17.82" lengthAdjust="spacingAndGlyphs">5</text>
<text x="1053.5" y="1150" font-size="35.6" textLength="17.82" lengthAdjust="spacingAndGlyphs">6</text>
<text x="1116" y="1150" font-size="35.6" textLength="17.82" lengthAdjust="spacingAndGlyphs">7</text>
<text x="1180.3" y="1150" font-size="35.6" textLength="17.82" lengthAdjust="spacingAndGlyphs">8</text>
<text x="1242.7" y="1150" font-size="35.6" textLength="17.82" lengthAdjust="spacingAndGlyphs">9</text>
<text x="1304.1" y="1150" font-size="35.6" textLength="35.64" lengthAdjust="spacingAndGlyphs">10</text>
<text x="797.9" y="719.8" font-size="35.3" textLength="33.96" lengthAdjust="spacingAndGlyphs">45</text>
<text x="797.9" y="776.2" font-size="35.3" textLength="33.96" lengthAdjust="spacingAndGlyphs">40</text>
<text x="797.9" y="832.5" font-size="35.3" textLength="33.96" lengthAdjust="spacingAndGlyphs">35</text>
<text x="797.9" y="888.9" font-size="35.3" textLength="33.96" lengthAdjust="spacingAndGlyphs">30</text>
<text x="797.9" y="945.3" font-size="35.3" textLength="33.96" lengthAdjust="spacingAndGlyphs">25</text>
<text x="797.9" y="1001.7" font-size="35.3" textLength="33.96" lengthAdjust="spacingAndGlyphs">20</text>
<text x="797.9" y="1058" font-size="35.3" textLength="33.96" lengthAdjust="spacingAndGlyphs">15</text>
<text x="797.9" y="1114.4" font-size="35.3" textLength="33.96" lengthAdjust="spacingAndGlyphs">10</text>
</g>
<g class="lb">
<text x="955.5" y="1077.4" font-size="43.5" textLength="171.13" lengthAdjust="spacingAndGlyphs">r=0.65, p</text>
<text class="fw" x="1131.5" y="1077.9" font-size="45.3" textLength="41.54" lengthAdjust="spacingAndGlyphs">＜</text>
<text x="1175.8" y="1077.4" font-size="43.5" textLength="107.98" lengthAdjust="spacingAndGlyphs">0.001</text>
<text x="948.3" y="1214" font-size="43.5" textLength="78.77" lengthAdjust="spacingAndGlyphs">PMI</text>
<text x="1037" y="1212.8" font-size="43.5" textLength="9.30" lengthAdjust="spacingAndGlyphs">(</text>
<text x="1048.7" y="1214" font-size="43.5" textLength="57.24" lengthAdjust="spacingAndGlyphs">cm</text>
<text x="1107.8" y="1200.1" font-size="28.2" stroke="#0c0c0c" stroke-width="0.55" textLength="14.67" lengthAdjust="spacingAndGlyphs">2</text>
<text transform="matrix(1 0 -0.154 1.267 1123.97 1220.35)" x="0" y="0" font-size="43.5">/</text>
<text x="1141.6" y="1214" font-size="43.5" textLength="37.84" lengthAdjust="spacingAndGlyphs">m</text>
<text x="1190.5" y="1200.1" font-size="28.2" stroke="#0c0c0c" stroke-width="0.55" textLength="14.79" lengthAdjust="spacingAndGlyphs">2</text>
<text x="1209.3" y="1212.8" font-size="43.5" textLength="9.30" lengthAdjust="spacingAndGlyphs">)</text>
<g transform="translate(741.3 1026) rotate(-90)">
<text x="-0.1" y="0" font-size="43.5" textLength="96.10" lengthAdjust="spacingAndGlyphs">AMA</text>
<text x="107.6" y="-1.2" font-size="43.5" textLength="9.30" lengthAdjust="spacingAndGlyphs">(</text>
<text x="120" y="0" font-size="43.5" textLength="56.69" lengthAdjust="spacingAndGlyphs">cm</text>
<text x="178.6" y="-13.9" font-size="28.2" stroke="#0c0c0c" stroke-width="0.55" textLength="14.67" lengthAdjust="spacingAndGlyphs">2</text>
<text x="197.7" y="-1.2" font-size="43.5" textLength="9.30" lengthAdjust="spacingAndGlyphs">)</text>
</g>
</g>
</g>
<g id="panel-f">
<path d="M1565.3 667.1L1565.3 1101.5M1681.9 667.1L1681.9 1101.5M1800.2 667.1L1800.2 1101.5M1916.9 667.1L1916.9 1101.5M1516.3 695L1995 697M1516.3 751.4L1995 753.4M1516.3 807.5L1995 809.5M1516.3 863.9L1995 865.9M1516.3 920.8L1995 922.8M1516.3 977L1995 979M1516.3 1032.6L1995 1034.6M1516.3 1089.1L1995 1091.1" stroke="#cecece" stroke-width="1.8" fill="none"/>
<line x1="1530.9" y1="1026.8" x2="1981.2" y2="785.3" stroke="#e6f8e8" stroke-width="4"/>
<line x1="1530.9" y1="1026.8" x2="1981.2" y2="785.3" stroke="#58c56c" stroke-width="1.6"/>
<g fill="#484848" stroke="#1a1a1a" stroke-width="1.2"><circle cx="1846.4" cy="681.2" r="2.6"/><circle cx="1786.1" cy="707.3" r="2.6"/><circle cx="1906.7" cy="731.2" r="2.6"/><circle cx="1727.6" cy="739.2" r="2.6"/><circle cx="1794.1" cy="787.5" r="2.6"/><circle cx="1689.5" cy="835.5" r="2.6"/><circle cx="1822.2" cy="835.5" r="2.6"/><circle cx="1981.1" cy="860.2" r="2.6"/><circle cx="1846.4" cy="869.9" r="2.6"/><circle cx="1711.7" cy="894.1" r="2.6"/><circle cx="1775.9" cy="897.8" r="2.6"/><circle cx="1683.5" cy="908" r="2.6"/><circle cx="1876.5" cy="928.2" r="2.6"/><circle cx="1530.9" cy="960.3" r="2.6"/><circle cx="1577" cy="960.3" r="2.6"/><circle cx="1822.2" cy="968.6" r="2.6"/><circle cx="1647.4" cy="984.5" r="2.6"/><circle cx="1663.6" cy="988.5" r="2.6"/><circle cx="1607.1" cy="1000.4" r="2.6"/><circle cx="1703.7" cy="1012.6" r="2.6"/><circle cx="1766" cy="1010.9" r="2.6"/><circle cx="1659.4" cy="1018.6" r="2.6"/><circle cx="1828.2" cy="1022.6" r="2.6"/><circle cx="1601.1" cy="1026.8" r="2.6"/><circle cx="1647.4" cy="1034.8" r="2.6"/><circle cx="1546.8" cy="1087.1" r="2.6"/></g>
<rect x="1513.3" y="665.1" width="486.2" height="437.4" fill="none" stroke="#0d0d0d" stroke-width="2.2"/>
<line x1="1565" y1="1102.9" x2="1917" y2="1104.5" stroke="#0d0d0d" stroke-width="1.9"/>
<path d="M1565.3 1102.5v8.7M1681.9 1102.5v8.7M1800.2 1102.5v8.7M1916.9 1102.5v8.7M1513.3 695.3h-8.5M1513.3 751.7h-8.5M1513.3 807.8h-8.5M1513.3 864.2h-8.5M1513.3 921.1h-8.5M1513.3 977.3h-8.5M1513.3 1032.9h-8.5M1513.3 1089.4h-8.5" stroke="#111" stroke-width="1.7" fill="none"/>
<g class="tk">
<text x="1556.6" y="1152" font-size="35.6" textLength="17.82" lengthAdjust="spacingAndGlyphs">2</text>
<text x="1673.3" y="1152" font-size="35.6" textLength="17.82" lengthAdjust="spacingAndGlyphs">4</text>
<text x="1791.4" y="1152" font-size="35.6" textLength="17.82" lengthAdjust="spacingAndGlyphs">6</text>
<text x="1908.2" y="1152" font-size="35.6" textLength="17.82" lengthAdjust="spacingAndGlyphs">8</text>
<text x="1477.3" y="719.8" font-size="35.3" textLength="33.96" lengthAdjust="spacingAndGlyphs">45</text>
<text x="1477.3" y="776.2" font-size="35.3" textLength="33.96" lengthAdjust="spacingAndGlyphs">40</text>
<text x="1477.3" y="832.5" font-size="35.3" textLength="33.96" lengthAdjust="spacingAndGlyphs">35</text>
<text x="1477.3" y="888.9" font-size="35.3" textLength="33.96" lengthAdjust="spacingAndGlyphs">30</text>
<text x="1477.3" y="945.3" font-size="35.3" textLength="33.96" lengthAdjust="spacingAndGlyphs">25</text>
<text x="1477.3" y="1001.7" font-size="35.3" textLength="33.96" lengthAdjust="spacingAndGlyphs">20</text>
<text x="1477.3" y="1058" font-size="35.3" textLength="33.96" lengthAdjust="spacingAndGlyphs">15</text>
<text x="1477.3" y="1114.4" font-size="35.3" textLength="33.96" lengthAdjust="spacingAndGlyphs">10</text>
</g>
<g class="lb">
<text x="1636.4" y="1077.4" font-size="43.5" textLength="304.97" lengthAdjust="spacingAndGlyphs">r=0.53, p=0.004</text>
<text x="1533.5" y="1209.6" font-size="43.5" textLength="133.50" lengthAdjust="spacingAndGlyphs">Simple</text>
<text x="1674" y="1209.6" font-size="43.5" textLength="78.77" lengthAdjust="spacingAndGlyphs">PMI</text>
<text x="1767.2" y="1208.4" font-size="43.5" textLength="9.30" lengthAdjust="spacingAndGlyphs">(</text>
<text x="1778.9" y="1209.6" font-size="43.5" textLength="57.24" lengthAdjust="spacingAndGlyphs">cm</text>
<text x="1838" y="1195.7" font-size="28.2" stroke="#0c0c0c" stroke-width="0.55" textLength="14.67" lengthAdjust="spacingAndGlyphs">2</text>
<text transform="matrix(1 0 -0.154 1.267 1854.17 1215.95)" x="0" y="0" font-size="43.5">/</text>
<text x="1871.8" y="1209.6" font-size="43.5" textLength="37.84" lengthAdjust="spacingAndGlyphs">m</text>
<text x="1920.7" y="1195.7" font-size="28.2" stroke="#0c0c0c" stroke-width="0.55" textLength="14.79" lengthAdjust="spacingAndGlyphs">2</text>
<text x="1939.5" y="1208.4" font-size="43.5" textLength="9.30" lengthAdjust="spacingAndGlyphs">)</text>
<g transform="translate(1435.3 1028) rotate(-90)">
<text x="-0.1" y="0" font-size="43.5" textLength="96.10" lengthAdjust="spacingAndGlyphs">AMA</text>
<text x="107.6" y="-1.2" font-size="43.5" textLength="9.30" lengthAdjust="spacingAndGlyphs">(</text>
<text x="120" y="0" font-size="43.5" textLength="56.69" lengthAdjust="spacingAndGlyphs">cm</text>
<text x="178.6" y="-13.9" font-size="28.2" stroke="#0c0c0c" stroke-width="0.55" textLength="14.67" lengthAdjust="spacingAndGlyphs">2</text>
<text x="197.7" y="-1.2" font-size="43.5" textLength="9.30" lengthAdjust="spacingAndGlyphs">)</text>
</g>
</g>
</g>
<g class="lb">
<text x="49.8" y="40.8" font-size="53.6" font-weight="bold" textLength="66.42" lengthAdjust="spacingAndGlyphs">(a)</text>
<text x="712.2" y="40.8" font-size="53.6" font-weight="bold" textLength="69.94" lengthAdjust="spacingAndGlyphs">(b)</text>
<text x="1371.4" y="40.8" font-size="53.6" font-weight="bold" textLength="66.96" lengthAdjust="spacingAndGlyphs">(c)</text>
<g transform="translate(25.7 401) rotate(-90)"><text x="-3" y="0" font-size="41" textLength="86.82" lengthAdjust="spacingAndGlyphs">men</text></g>
<g transform="translate(33.7 1045.4) rotate(-90)"><text x="0.1" y="0" font-size="41" textLength="144.54" lengthAdjust="spacingAndGlyphs">women</text></g>
</g>
</svg>
</body>
</html>
